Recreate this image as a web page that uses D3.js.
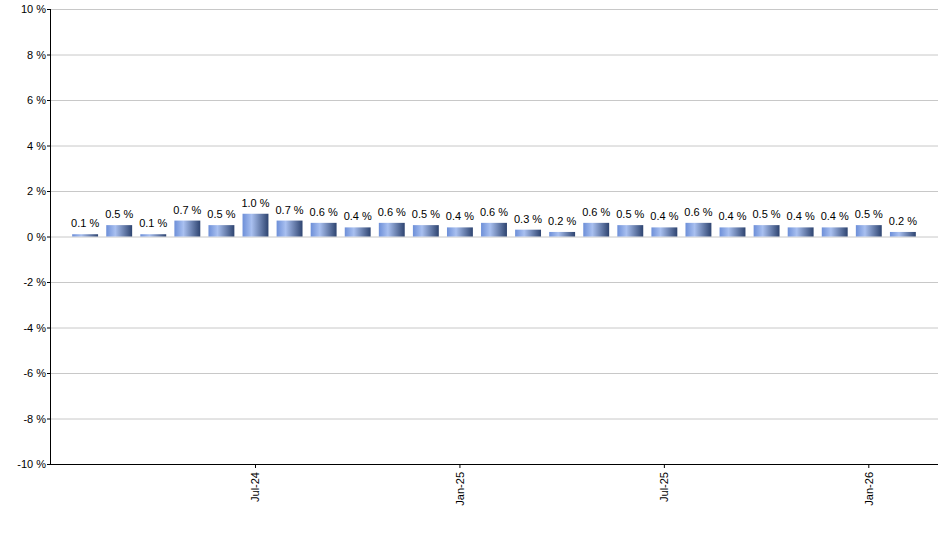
<!DOCTYPE html>
<html><head><meta charset="utf-8">
<script src="https://cdn.jsdelivr.net/npm/d3@7"></script>
<style>body{margin:0;background:#fff;font-family:"Liberation Sans",Arial,sans-serif;}</style>
</head><body><svg id="c" width="940" height="550"></svg>
<script>
const months = ['Feb-24','Mar-24','Apr-24','May-24','Jun-24','Jul-24','Aug-24','Sep-24','Oct-24','Nov-24','Dec-24','Jan-25','Feb-25','Mar-25','Apr-25','May-25','Jun-25','Jul-25','Aug-25','Sep-25','Oct-25','Nov-25','Dec-25','Jan-26','Feb-26'];
const values = [0.1,0.5,0.1,0.7,0.5,1.0,0.7,0.6,0.4,0.6,0.5,0.4,0.6,0.3,0.2,0.6,0.5,0.4,0.6,0.4,0.5,0.4,0.4,0.5,0.2];
const tickLabels = ['Jul-24','Jan-25','Jul-25','Jan-26'];
const yTicks = d3.range(-10, 11, 2);

const svg = d3.select('#c');
const plotL = 50, plotR = 938, plotT = 9, plotB = 464;

const x = d3.scaleBand().domain(months).range([64, 924]).padding(0.24);
const y = d3.scaleLinear().domain([-10, 10]).range([plotB, plotT]);

const grad = svg.append('defs').append('linearGradient').attr('id', 'g');
grad.append('stop').attr('offset', '0%').attr('stop-color', '#6d8fd8');
grad.append('stop').attr('offset', '35%').attr('stop-color', '#a9c0f0');
grad.append('stop').attr('offset', '100%').attr('stop-color', '#2e4470');

// grid
svg.append('g').selectAll('line').data(yTicks).join('line')
  .attr('x1', plotL).attr('x2', plotR)
  .attr('y1', d => y(d) + 0.5).attr('y2', d => y(d) + 0.5)
  .attr('stroke', '#c8c8c8');

// axes
svg.append('line').attr('x1', plotL + 0.5).attr('x2', plotL + 0.5).attr('y1', plotT).attr('y2', plotB).attr('stroke', '#000');
svg.append('line').attr('x1', plotL).attr('x2', plotR).attr('y1', plotB + 0.5).attr('y2', plotB + 0.5).attr('stroke', '#000');
svg.append('g').selectAll('text').data(yTicks).join('text')
  .attr('x', plotL - 4).attr('y', d => y(d) + 4)
  .attr('text-anchor', 'end').attr('font-size', 11).text(d => d + ' %');
svg.append('g').selectAll('line').data(yTicks).join('line')
  .attr('x1', plotL - 3).attr('x2', plotL).attr('y1', d => y(d) + 0.5).attr('y2', d => y(d) + 0.5).attr('stroke', '#000');

// bars
svg.append('g').selectAll('rect').data(values).join('rect')
  .attr('x', (d, i) => x(months[i])).attr('width', x.bandwidth())
  .attr('y', d => y(d)).attr('height', d => y(0) - y(d))
  .attr('fill', 'url(#g)');

svg.append('g').selectAll('text').data(values).join('text')
  .attr('x', (d, i) => x(months[i]) + x.bandwidth() / 2)
  .attr('y', d => y(d) - 7)
  .attr('text-anchor', 'middle').attr('font-size', 11)
  .text(d => d.toFixed(1) + ' %');

// x ticks
const xt = svg.append('g').selectAll('g').data(tickLabels).join('g')
  .attr('transform', d => `translate(${x(d) + x.bandwidth() / 2},${plotB})`);
xt.append('line').attr('y1', 0).attr('y2', 4).attr('stroke', '#000');
xt.append('text').attr('transform', 'rotate(-90)').attr('x', -8).attr('y', 4)
  .attr('text-anchor', 'end').attr('font-size', 11).text(d => d);
</script></body></html>
